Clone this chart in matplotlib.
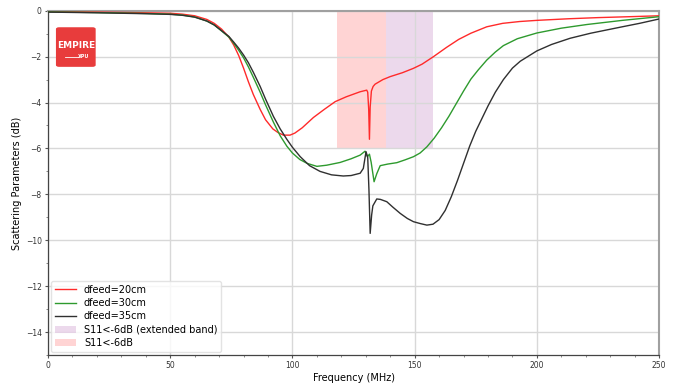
import numpy as np
import matplotlib; matplotlib.use("Agg")
import matplotlib.pyplot as plt
from matplotlib.patches import FancyBboxPatch, Patch
from matplotlib.ticker import MultipleLocator

# frequency (MHz) / S11 (dB)
f20 = [0, 20, 40, 50, 55, 60, 65, 68, 71, 74, 76, 78, 80, 82, 84, 86.8, 89, 92, 94,
       96.3, 99, 101, 104, 108.6, 113, 117.5, 122, 127.7, 130.4, 130.8, 131.2, 131.5,
       131.8, 132.3, 133, 133.8, 137, 140, 145, 149.5, 153, 157.7, 163, 168, 173,
       179.5, 186, 193, 200, 213, 225, 238, 250]
s20 = [-0.04, -0.06, -0.09, -0.11, -0.15, -0.22, -0.38, -0.55, -0.8, -1.15, -1.5, -1.95,
       -2.5, -3.1, -3.65, -4.3, -4.75, -5.15, -5.3, -5.42, -5.42, -5.33, -5.1, -4.65,
       -4.3, -3.96, -3.75, -3.53, -3.46, -3.55, -4.3, -5.6, -4.2, -3.5, -3.3, -3.2,
       -3.0, -2.87, -2.7, -2.51, -2.33, -2.0, -1.6, -1.25, -0.98, -0.7, -0.55, -0.47,
       -0.42, -0.35, -0.3, -0.26, -0.22]

f30 = [0, 20, 40, 50, 55, 60, 65, 68, 71, 74, 76, 78, 80, 82, 84, 86.8, 89, 92.2, 95,
       97.7, 100, 103, 106, 110, 114, 119.5, 124, 127.7, 129.7, 130.7, 131.5, 132.2,
       133.4, 134.5, 135.9, 139, 142.7, 146, 149.5, 152.2, 155, 158, 161, 164, 167,
       170, 173, 176, 179.5, 183, 186.3, 192, 200, 210, 220.5, 235, 250]
s30 = [-0.05, -0.08, -0.12, -0.15, -0.19, -0.27, -0.45, -0.62, -0.88, -1.15, -1.42, -1.72,
       -2.05, -2.45, -2.9, -3.55, -4.1, -4.85, -5.45, -5.9, -6.2, -6.48, -6.65, -6.78,
       -6.73, -6.61, -6.45, -6.29, -6.12, -6.36, -6.25, -6.6, -7.45, -7.1, -6.75, -6.68,
       -6.62, -6.5, -6.36, -6.2, -5.93, -5.55, -5.1, -4.6, -4.05, -3.5, -2.98, -2.58,
       -2.15, -1.8, -1.52, -1.22, -0.97, -0.76, -0.6, -0.42, -0.26]

f35 = [0, 20, 40, 50, 55, 60, 65, 68, 71, 74, 76, 78, 80, 82, 84, 86.8, 89, 92.2, 95,
       97.7, 100, 103.2, 107, 111.3, 116, 120.8, 124, 127.7, 129, 130.1, 130.8, 131.3,
       131.8, 132.4, 132.9, 134.5, 136, 138.6, 141, 144.1, 147, 149.5, 152.2, 155, 157.5,
       160, 162.5, 165, 167.5, 170, 172.5, 175, 177.5, 180, 183, 186.3, 190, 193.2, 200,
       206, 213.6, 222, 234, 242, 250]
s35 = [-0.06, -0.09, -0.13, -0.16, -0.2, -0.28, -0.45, -0.62, -0.87, -1.12, -1.37, -1.63,
       -1.93, -2.27, -2.68, -3.3, -3.85, -4.6, -5.15, -5.6, -5.95, -6.36, -6.75, -7.0,
       -7.15, -7.2, -7.18, -7.08, -6.87, -6.14, -6.4, -7.8, -9.7, -8.9, -8.5, -8.2, -8.22,
       -8.32, -8.55, -8.83, -9.05, -9.19, -9.27, -9.34, -9.3, -9.1, -8.7, -8.1, -7.4,
       -6.65, -5.9, -5.25, -4.7, -4.15, -3.55, -3.0, -2.5, -2.2, -1.75, -1.47, -1.2,
       -0.98, -0.72, -0.55, -0.36]

band = [118.4, 138.1]       # S11<-6dB
band_ext = [138.1, 157.4]   # extended band
band_level = -6

fig = plt.figure(figsize=(6.76, 3.83), dpi=100)
ax = fig.add_axes([0.071, 0.073, 0.904, 0.899])

ax.fill_between(band_ext, band_level, 0, color="purple", alpha=0.15, lw=0, zorder=1)
ax.fill_between(band, band_level, 0, color="red", alpha=0.17, lw=0, zorder=1)
l1, = ax.plot(f20, s20, color="#ff2a2a", lw=1.0, zorder=3)
l2, = ax.plot(f30, s30, color="#2e9a2e", lw=1.0, zorder=3)
l3, = ax.plot(f35, s35, color="#303030", lw=1.0, zorder=3)

ax.set_xlim(0, 250); ax.set_ylim(-15, 0)
ax.xaxis.set_major_locator(MultipleLocator(50)); ax.xaxis.set_minor_locator(MultipleLocator(10))
ax.yaxis.set_major_locator(MultipleLocator(2)); ax.yaxis.set_minor_locator(MultipleLocator(1))
ax.grid(True, which="major", color="#d8d8d8", lw=1.0, zorder=0)
ax.tick_params(which="major", labelsize=5.5, length=2.5, pad=2, color="#555", labelcolor="#333")
ax.tick_params(which="minor", length=1.5, color="#777")
for s in ["top", "right"]:
    ax.spines[s].set_color("#a0a0a0"); ax.spines[s].set_linewidth(1.5)
for s in ["left", "bottom"]:
    ax.spines[s].set_color("#444"); ax.spines[s].set_linewidth(0.9)
ax.set_xlabel("Frequency (MHz)", fontsize=7, labelpad=2)
ax.set_ylabel("Scattering Parameters (dB)", fontsize=7, labelpad=3)

h4 = Patch(color="purple", alpha=0.15, lw=0)
h5 = Patch(color="red", alpha=0.17, lw=0)
ax.legend([l1, l2, l3, h4, h5],
          ["dfeed=20cm", "dfeed=30cm", "dfeed=35cm", "S11<-6dB (extended band)", "S11<-6dB"],
          loc="lower left", fontsize=7, frameon=True, edgecolor="#dddddd",
          fancybox=True, borderaxespad=0.3, handlelength=2.2, labelspacing=0.35)

# logo
ax.add_patch(FancyBboxPatch((0.018, 0.842), 0.055, 0.105, boxstyle="round,pad=0.005",
                            transform=ax.transAxes, fc="#e83c3c", ec="none", zorder=4))
ax.text(0.0455, 0.9, "EMPIRE", transform=ax.transAxes, ha="center", va="center",
        fontsize=6.5, color="white", weight="bold", family="DejaVu Sans Condensed", zorder=5)
ax.text(0.058, 0.866, "XPU", transform=ax.transAxes, ha="center", va="center",
        fontsize=3.5, color="white", weight="bold", zorder=5)
ax.plot([0.028, 0.05], [0.866, 0.866], transform=ax.transAxes, color="white", lw=0.6, zorder=5)

fig.savefig("out.png", dpi=100)
